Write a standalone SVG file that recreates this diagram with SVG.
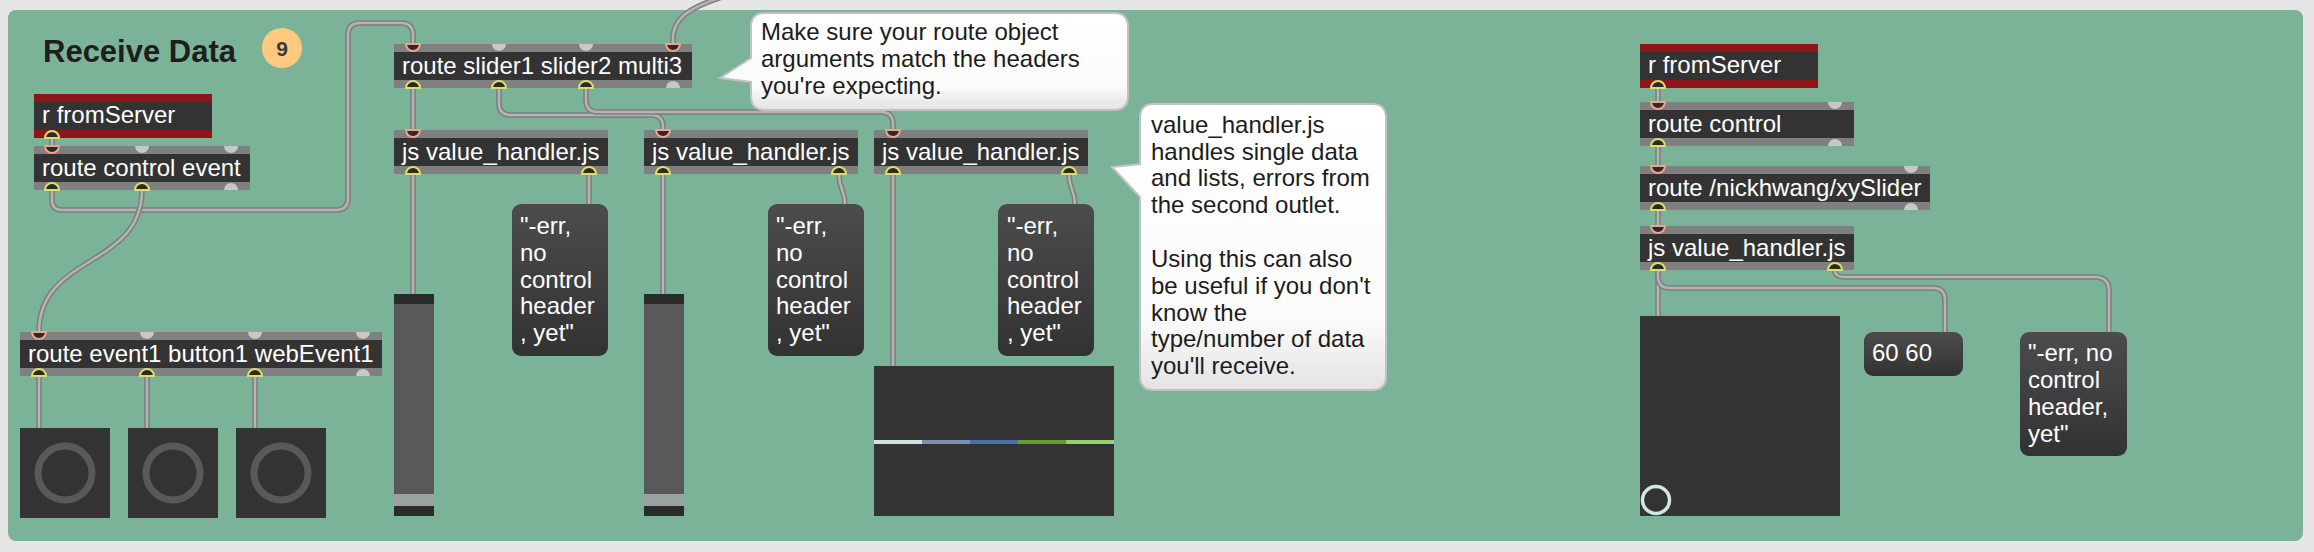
<svg xmlns="http://www.w3.org/2000/svg" xmlns:xlink="http://www.w3.org/1999/xlink" width="2314" height="552" viewBox="0 0 2314 552">
<style>
.bar{fill:#808080}
.red{fill:#8e1518}
.dark{fill:#333333}
.ot{font-family:"Liberation Sans",Arial,sans-serif;font-size:24px;fill:#ffffff}
.ct{font-family:"Liberation Sans",Arial,sans-serif;font-size:24px;fill:#1c1c1c}
.pin{fill:#2b2b2b;stroke:#f2a18f;stroke-width:2}
.pout{fill:#2b2b2b;stroke:#dede6a;stroke-width:2}
.pfree{fill:#c8c8c8}
.cab{fill:none;stroke:#7e7e7e;stroke-width:5.5;stroke-linecap:butt}
.cab2{fill:none;stroke:#b4b4b4;stroke-width:2.5}
.msg{fill:url(#msgGrad)}
.bub{fill:url(#bubGrad);stroke:#c2c2c2;stroke-width:2}
.btn{fill:#333333}
.ring{fill:none;stroke:#595959;stroke-width:7}
</style>
<defs>
<linearGradient id="msgGrad" x1="0" y1="0" x2="0" y2="1">
<stop offset="0" stop-color="#4c4c4c"/><stop offset="1" stop-color="#323232"/>
</linearGradient>
<linearGradient id="bubGrad" x1="0" y1="0" x2="0" y2="1">
<stop offset="0" stop-color="#ffffff"/><stop offset="0.75" stop-color="#fbfbfb"/><stop offset="1" stop-color="#e3e3e3"/>
</linearGradient>
<path id="c1" d="M52,190 V200 Q52,210 62,210 H336 Q348,210 348,198 V35 Q348,23 360,23 H401 Q413,23 413,35 V44"/>
<path id="c2" d="M142,190 C142,268 39,254 39,332"/>
<path id="c3" d="M52,138 V146"/>
<path id="c4" d="M39,376 V428"/>
<path id="c5" d="M147,376 V428"/>
<path id="c6" d="M255,376 V428"/>
<path id="c7" d="M673,44 V38 C673,16 695,6 722,-3"/>
<path id="c8" d="M413,88 V130"/>
<path id="c9" d="M499,88 V103 Q499,115 511,115 H651 Q663,115 663,127 V130"/>
<path id="c10" d="M586,88 V100 Q586,112 598,112 H881 Q893,112 893,124 V130"/>
<path id="c11" d="M413,174 V294"/>
<path id="c12" d="M589,174 V204"/>
<path id="c13" d="M663,174 V294"/>
<path id="c14" d="M839,174 C839,190 845,190 845,204"/>
<path id="c15" d="M893,174 V366"/>
<path id="c16" d="M1069,174 C1069,190 1075,190 1075,204"/>
<path id="c17" d="M1658,88 V102"/>
<path id="c18" d="M1658,146 V166"/>
<path id="c19" d="M1658,210 V226"/>
<path id="c20" d="M1658,270 V316"/>
<path id="c21" d="M1658,270 V276 Q1658,288 1670,288 H1933 Q1945,288 1945,300 V332"/>
<path id="c22" d="M1835,270 V271 Q1835,277 1845,277 H2095 Q2109,277 2109,291 V332"/>
</defs>

<rect x="0" y="0" width="2314" height="552" fill="#e6e6e6"/>
<rect x="8" y="10" width="2295" height="531" rx="8" fill="#7bb399"/>

<g id="title">
<text x="43" y="62" font-family="Liberation Sans, Arial, sans-serif" font-size="31" font-weight="bold" fill="#1e1e1e">Receive Data</text>
</g>
<g id="badge">
<circle cx="282" cy="48" r="20" fill="#ffca80"/>
<text x="282" y="56" text-anchor="middle" font-family="Liberation Sans, Arial, sans-serif" font-size="21" font-weight="bold" fill="#3a3a3a">9</text>
</g>

<g id="connectors">
<use href="#c1" class="cab"/><use href="#c1" class="cab2"/>
<use href="#c2" class="cab"/><use href="#c2" class="cab2"/>
<use href="#c3" class="cab"/><use href="#c3" class="cab2"/>
<use href="#c4" class="cab"/><use href="#c4" class="cab2"/>
<use href="#c5" class="cab"/><use href="#c5" class="cab2"/>
<use href="#c6" class="cab"/><use href="#c6" class="cab2"/>
<use href="#c7" class="cab"/><use href="#c7" class="cab2"/>
<use href="#c8" class="cab"/><use href="#c8" class="cab2"/>
<use href="#c9" class="cab"/><use href="#c9" class="cab2"/>
<use href="#c10" class="cab"/><use href="#c10" class="cab2"/>
<use href="#c11" class="cab"/><use href="#c11" class="cab2"/>
<use href="#c12" class="cab"/><use href="#c12" class="cab2"/>
<use href="#c13" class="cab"/><use href="#c13" class="cab2"/>
<use href="#c14" class="cab"/><use href="#c14" class="cab2"/>
<use href="#c15" class="cab"/><use href="#c15" class="cab2"/>
<use href="#c16" class="cab"/><use href="#c16" class="cab2"/>
<use href="#c17" class="cab"/><use href="#c17" class="cab2"/>
<use href="#c18" class="cab"/><use href="#c18" class="cab2"/>
<use href="#c19" class="cab"/><use href="#c19" class="cab2"/>
<use href="#c20" class="cab"/><use href="#c20" class="cab2"/>
<use href="#c21" class="cab"/><use href="#c21" class="cab2"/>
<use href="#c22" class="cab"/><use href="#c22" class="cab2"/>
</g>

<g id="r-fromServer-1">
<rect class="red" x="34" y="94" width="178" height="44"/>
<rect class="dark" x="34" y="102" width="178" height="28"/>
<text class="ot" x="42" y="123">r fromServer</text>
<path class="pout" d="M45,138 A7,7 0 0 1 59,138 Z"/>
</g>

<g id="route-control-event">
<rect class="bar" x="34" y="146" width="216" height="44"/>
<rect class="dark" x="34" y="154" width="216" height="28"/>
<text class="ot" x="42" y="175.5">route control event</text>
<path class="pin" d="M45,146 A7,7 0 0 0 59,146 Z"/>
<path class="pfree" d="M135,146 A7,7 0 0 0 149,146 Z"/>
<path class="pfree" d="M224,146 A7,7 0 0 0 238,146 Z"/>
<path class="pout" d="M45,190 A7,7 0 0 1 59,190 Z"/>
<path class="pout" d="M135,190 A7,7 0 0 1 149,190 Z"/>
<path class="pfree" d="M224,190 A7,7 0 0 1 238,190 Z"/>
</g>

<g id="route-event1-button1-webEvent1">
<rect class="bar" x="20" y="332" width="362" height="44"/>
<rect class="dark" x="20" y="340" width="362" height="28"/>
<text class="ot" x="28" y="361.5">route event1 button1 webEvent1</text>
<path class="pin" d="M32,332 A7,7 0 0 0 46,332 Z"/>
<path class="pfree" d="M140,332 A7,7 0 0 0 154,332 Z"/>
<path class="pfree" d="M248,332 A7,7 0 0 0 262,332 Z"/>
<path class="pfree" d="M356,332 A7,7 0 0 0 370,332 Z"/>
<path class="pout" d="M32,376 A7,7 0 0 1 46,376 Z"/>
<path class="pout" d="M140,376 A7,7 0 0 1 154,376 Z"/>
<path class="pout" d="M248,376 A7,7 0 0 1 262,376 Z"/>
<path class="pfree" d="M356,376 A7,7 0 0 1 370,376 Z"/>
</g>

<g id="button-1"><rect class="btn" x="20" y="428" width="90" height="90"/><circle class="ring" cx="65" cy="473" r="27"/></g>
<g id="button-2"><rect class="btn" x="128" y="428" width="90" height="90"/><circle class="ring" cx="173" cy="473" r="27"/></g>
<g id="button-3"><rect class="btn" x="236" y="428" width="90" height="90"/><circle class="ring" cx="281" cy="473" r="27"/></g>

<g id="route-slider1-slider2-multi3">
<rect class="bar" x="394" y="44" width="298" height="44"/>
<rect class="dark" x="394" y="52" width="298" height="28"/>
<text class="ot" x="402" y="73.5">route slider1 slider2 multi3</text>
<path class="pin" d="M406,44 A7,7 0 0 0 420,44 Z"/>
<path class="pfree" d="M492,44 A7,7 0 0 0 506,44 Z"/>
<path class="pfree" d="M579,44 A7,7 0 0 0 593,44 Z"/>
<path class="pin" d="M666,44 A7,7 0 0 0 680,44 Z"/>
<path class="pout" d="M406,88 A7,7 0 0 1 420,88 Z"/>
<path class="pout" d="M492,88 A7,7 0 0 1 506,88 Z"/>
<path class="pout" d="M579,88 A7,7 0 0 1 593,88 Z"/>
<path class="pfree" d="M666,88 A7,7 0 0 1 680,88 Z"/>
</g>

<g id="js-value-handler-1">
<rect class="bar" x="394" y="130" width="214" height="44"/>
<rect class="dark" x="394" y="138" width="214" height="28"/>
<text class="ot" x="402" y="159.5">js value_handler.js</text>
<path class="pin" d="M406,130 A7,7 0 0 0 420,130 Z"/>
<path class="pout" d="M406,174 A7,7 0 0 1 420,174 Z"/>
<path class="pout" d="M582,174 A7,7 0 0 1 596,174 Z"/>
</g>

<g id="js-value-handler-2">
<rect class="bar" x="644" y="130" width="214" height="44"/>
<rect class="dark" x="644" y="138" width="214" height="28"/>
<text class="ot" x="652" y="159.5">js value_handler.js</text>
<path class="pin" d="M656,130 A7,7 0 0 0 670,130 Z"/>
<path class="pout" d="M656,174 A7,7 0 0 1 670,174 Z"/>
<path class="pout" d="M832,174 A7,7 0 0 1 846,174 Z"/>
</g>

<g id="js-value-handler-3">
<rect class="bar" x="874" y="130" width="214" height="44"/>
<rect class="dark" x="874" y="138" width="214" height="28"/>
<text class="ot" x="882" y="159.5">js value_handler.js</text>
<path class="pin" d="M886,130 A7,7 0 0 0 900,130 Z"/>
<path class="pout" d="M886,174 A7,7 0 0 1 900,174 Z"/>
<path class="pout" d="M1062,174 A7,7 0 0 1 1076,174 Z"/>
</g>

<g id="slider-1">
<rect x="394" y="294" width="40" height="222" fill="#2b2b2b"/>
<rect x="394" y="304" width="40" height="190" fill="#595959"/>
<rect x="394" y="494" width="40" height="12" fill="#9aa3a0"/>
</g>
<g id="slider-2">
<rect x="644" y="294" width="40" height="222" fill="#2b2b2b"/>
<rect x="644" y="304" width="40" height="190" fill="#595959"/>
<rect x="644" y="494" width="40" height="12" fill="#9aa3a0"/>
</g>

<g id="message-err-1">
<rect class="msg" x="512" y="204" width="96" height="152" rx="9"/>
<text class="ot" x="520" y="234">"-err,</text>
<text class="ot" x="520" y="261">no</text>
<text class="ot" x="520" y="288">control</text>
<text class="ot" x="520" y="314">header</text>
<text class="ot" x="520" y="341">, yet"</text>
</g>
<g id="message-err-2">
<rect class="msg" x="768" y="204" width="96" height="152" rx="9"/>
<text class="ot" x="776" y="234">"-err,</text>
<text class="ot" x="776" y="261">no</text>
<text class="ot" x="776" y="288">control</text>
<text class="ot" x="776" y="314">header</text>
<text class="ot" x="776" y="341">, yet"</text>
</g>
<g id="message-err-3">
<rect class="msg" x="998" y="204" width="96" height="152" rx="9"/>
<text class="ot" x="1007" y="234">"-err,</text>
<text class="ot" x="1007" y="261">no</text>
<text class="ot" x="1007" y="288">control</text>
<text class="ot" x="1007" y="314">header</text>
<text class="ot" x="1007" y="341">, yet"</text>
</g>

<g id="multislider">
<rect x="874" y="366" width="240" height="150" fill="#333333"/>
<rect x="874" y="440" width="48" height="4" fill="#cfe3e0"/>
<rect x="922" y="440" width="48" height="4" fill="#7d8db8"/>
<rect x="970" y="440" width="48" height="4" fill="#4e6cb0"/>
<rect x="1018" y="440" width="48" height="4" fill="#6b9a2c"/>
<rect x="1066" y="440" width="48" height="4" fill="#9ad068"/>
</g>

<g id="comment-route-args">
<path class="bub" d="M765,13 H1114 Q1128,13 1128,27 V96 Q1128,110 1114,110 H765 Q751,110 751,96 V82 L720,78 L751,58 V27 Q751,13 765,13 Z"/>
<text class="ct" x="761" y="40">Make sure your route object</text>
<text class="ct" x="761" y="67">arguments match the headers</text>
<text class="ct" x="761" y="94">you're expecting.</text>
</g>

<g id="comment-value-handler">
<path class="bub" d="M1154,104 H1372 Q1386,104 1386,118 V376 Q1386,390 1372,390 H1154 Q1140,390 1140,376 V197 L1112,167 L1140,164 V118 Q1140,104 1154,104 Z"/>
<text class="ct" x="1151" y="133">value_handler.js</text>
<text class="ct" x="1151" y="160">handles single data</text>
<text class="ct" x="1151" y="186">and lists, errors from</text>
<text class="ct" x="1151" y="213">the second outlet.</text>
<text class="ct" x="1151" y="267">Using this can also</text>
<text class="ct" x="1151" y="294">be useful if you don't</text>
<text class="ct" x="1151" y="321">know the</text>
<text class="ct" x="1151" y="347">type/number of data</text>
<text class="ct" x="1151" y="374">you'll receive.</text>
</g>

<g id="r-fromServer-2">
<rect class="red" x="1640" y="44" width="178" height="44"/>
<rect class="dark" x="1640" y="52" width="178" height="28"/>
<text class="ot" x="1648" y="73">r fromServer</text>
<path class="pout" d="M1651,88 A7,7 0 0 1 1665,88 Z"/>
</g>

<g id="route-control">
<rect class="bar" x="1640" y="102" width="214" height="44"/>
<rect class="dark" x="1640" y="110" width="214" height="28"/>
<text class="ot" x="1648" y="131.5">route control</text>
<path class="pin" d="M1651,102 A7,7 0 0 0 1665,102 Z"/>
<path class="pfree" d="M1828,102 A7,7 0 0 0 1842,102 Z"/>
<path class="pout" d="M1651,146 A7,7 0 0 1 1665,146 Z"/>
<path class="pfree" d="M1828,146 A7,7 0 0 1 1842,146 Z"/>
</g>

<g id="route-xySlider">
<rect class="bar" x="1640" y="166" width="290" height="44"/>
<rect class="dark" x="1640" y="174" width="290" height="28"/>
<text class="ot" x="1648" y="195.5">route /nickhwang/xySlider</text>
<path class="pin" d="M1651,166 A7,7 0 0 0 1665,166 Z"/>
<path class="pfree" d="M1904,166 A7,7 0 0 0 1918,166 Z"/>
<path class="pout" d="M1651,210 A7,7 0 0 1 1665,210 Z"/>
<path class="pfree" d="M1904,210 A7,7 0 0 1 1918,210 Z"/>
</g>

<g id="js-value-handler-4">
<rect class="bar" x="1640" y="226" width="214" height="44"/>
<rect class="dark" x="1640" y="234" width="214" height="28"/>
<text class="ot" x="1648" y="255.5">js value_handler.js</text>
<path class="pin" d="M1651,226 A7,7 0 0 0 1665,226 Z"/>
<path class="pout" d="M1651,270 A7,7 0 0 1 1665,270 Z"/>
<path class="pout" d="M1828,270 A7,7 0 0 1 1842,270 Z"/>
</g>

<g id="xy-pad">
<rect x="1640" y="316" width="200" height="200" fill="#333333"/>
<circle cx="1656" cy="500" r="13.5" fill="none" stroke="#d3e6e6" stroke-width="3.5"/>
</g>

<g id="message-60-60">
<rect class="msg" x="1864" y="332" width="99" height="44" rx="9"/>
<text class="ot" x="1872" y="361">60 60</text>
</g>

<g id="message-err-4">
<rect class="msg" x="2020" y="332" width="107" height="124" rx="9"/>
<text class="ot" x="2028" y="361">"-err, no</text>
<text class="ot" x="2028" y="388">control</text>
<text class="ot" x="2028" y="415">header,</text>
<text class="ot" x="2028" y="442">yet"</text>
</g>
</svg>
